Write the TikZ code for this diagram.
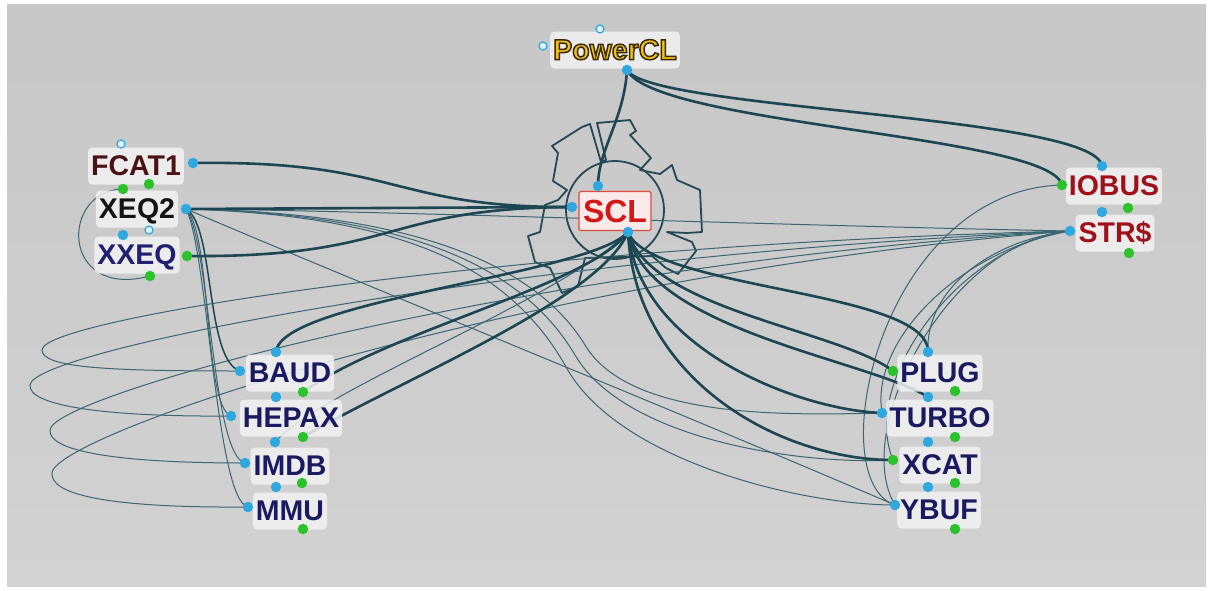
\documentclass[tikz,border=0pt]{standalone}
\usepackage{fontspec}
\setmainfont{Liberation Sans}
\newfontfamily\lblfont{Liberation Sans}
\definecolor{bgtop}{HTML}{C7C7C7}
\definecolor{bgmid}{HTML}{E1E1E1}
\definecolor{bgbot}{HTML}{D2D2D2}
\definecolor{edgedark}{HTML}{1C4654}
\definecolor{edgethin}{HTML}{3A6572}
\definecolor{geardark}{HTML}{244856}
\definecolor{boxfill}{HTML}{F2F2F2}
\definecolor{portblue}{HTML}{2EA8DE}
\definecolor{portgreen}{HTML}{2CC22C}
\definecolor{pcgold}{HTML}{F4C312}
\definecolor{maroon}{HTML}{4A1212}
\definecolor{navy}{HTML}{1A1A60}
\definecolor{xxnavy}{HTML}{202070}
\definecolor{sclred}{HTML}{D41818}
\definecolor{iored}{HTML}{A0101A}
\definecolor{sclbox}{HTML}{FBEAEA}
\definecolor{sclborder}{HTML}{E04A3A}
\newcommand{\outlinedtext}[1]{\special{pdf:literal direct 2 Tr 1.5 w 0.23 0.16 0.02 RG}#1\special{pdf:literal direct 0 Tr}}
\begin{document}
\begin{tikzpicture}[x=1pt,y=-1pt,
  thickedge/.style={draw=edgedark, line width=2.6pt},
  midedge/.style={draw=edgedark, line width=1.5pt},
  thinedge/.style={draw=edgethin, line width=1pt},
  gearline/.style={draw=geardark, line width=1.8pt, line join=round},
  lbl/.style={font=\lblfont\bfseries\fontsize{28.5}{28.5}\selectfont, fill=boxfill, fill opacity=0.85, text opacity=1, rounded corners=4pt,
    inner xsep=3pt, inner ysep=7pt, text height=21pt, text depth=2pt},
  bport/.style={circle, fill=portblue, inner sep=0pt, minimum size=10.5pt},
  gport/.style={circle, fill=portgreen, inner sep=0pt, minimum size=10.5pt},
  hport/.style={circle, draw=portblue, fill=white!85!portblue, line width=1.2pt, inner sep=0pt, minimum size=8pt}]
% background
\fill[white] (0,0) rectangle (1212,590);
\shade[top color=bgtop, middle color=bgmid, bottom color=bgbot] (7,4) rectangle (1206,586);
\useasboundingbox (0,0) rectangle (1212,590);

% port coordinates
\coordinate (pcA) at (600,29);  \coordinate (pcB) at (543,46);  \coordinate (pcC) at (627,70);
\coordinate (fcH) at (121,144); \coordinate (fcR) at (193,163); \coordinate (fcG) at (123,189); \coordinate (fcK) at (149,184);
\coordinate (xqR) at (186,209); \coordinate (xqB) at (123,235); \coordinate (xqH) at (149,230);
\coordinate (xxR) at (187,256); \coordinate (xxG) at (150,276);
\coordinate (sT) at (598,186);  \coordinate (sL) at (572,207);  \coordinate (sB) at (628,232);
\coordinate (ioT) at (1102,166); \coordinate (ioL) at (1062,185); \coordinate (ioG) at (1128,208);
\coordinate (stT) at (1102,212); \coordinate (stL) at (1070,231); \coordinate (stG) at (1129,253);
\coordinate (baT) at (276,352); \coordinate (baL) at (240,371); \coordinate (baG) at (303,392);
\coordinate (heT) at (276,397); \coordinate (heL) at (231,416); \coordinate (heG) at (303,437);
\coordinate (imT) at (275,442); \coordinate (imL) at (245,463); \coordinate (imG) at (302,483);
\coordinate (mmT) at (276,487); \coordinate (mmL) at (248,507); \coordinate (mmG) at (303,529);
\coordinate (plT) at (928,352); \coordinate (plL) at (893,371); \coordinate (plG) at (955,391);
\coordinate (tuT) at (928,397); \coordinate (tuL) at (882,413); \coordinate (tuG) at (955,437);
\coordinate (xcT) at (928,442); \coordinate (xcL) at (893,460); \coordinate (xcG) at (955,483);
\coordinate (ybT) at (928,487); \coordinate (ybL) at (895,505); \coordinate (ybG) at (955,529);

% gear around SCL
\draw[gearline] (615,210) circle (49);
\draw[gearline] (567,190) -- (553,181) -- (558,153) -- (552,146) -- (582,127) -- (590,124) -- (601,162)
  -- (606,160) -- (597,123) -- (630,120) -- (636,131) -- (630,135) -- (651,158) -- (640,170)
  -- (660,174) -- (672,165) -- (677,180) -- (700,190) -- (702,232) -- (687,233) -- (667,232)
  -- (692,242) -- (696,251) -- (678,274) -- (666,268) -- (652,256)
  -- (585,258) -- (578,286) -- (562,293) -- (550,268) -- (535,262) -- (528,236) -- (540,232)
  -- (545,205) -- (558,200) -- cycle;

% thin edges: loops from the left group to STR$
\draw[thinedge] (baL) .. controls (110,371) and (42,368) .. (42,350) .. controls (42,318) and (520,245) .. (stL);
\draw[thinedge] (heL) .. controls (100,417) and (28,405) .. (30,385) .. controls (32,350) and (520,255) .. (stL);
\draw[thinedge] (imL) .. controls (110,463) and (48,450) .. (50,430) .. controls (52,395) and (520,265) .. (stL);
\draw[thinedge] (mmL) .. controls (110,508) and (50,495) .. (52,473) .. controls (54,435) and (520,275) .. (stL);
% XEQ2 down to the left group
\draw[midedge] (xqR) .. controls (215,225) and (205,360) .. (baL);
\draw[thinedge] (xqR) .. controls (212,232) and (203,405) .. (heL);
\draw[thinedge] (xqR) .. controls (210,242) and (212,455) .. (imL);
\draw[thinedge] (xqR) .. controls (208,252) and (216,500) .. (mmL);
% FCAT1 loop to XXEQ
\draw[thinedge] (fcG) .. controls (60,190) and (60,300) .. (xxG);
% XEQ2 to the right
\draw[thinedge] (xqR) .. controls (350,210) and (800,226) .. (stL);
\draw[thinedge] (xqR) .. controls (400,300) and (650,400) .. (ybL);
\draw[thinedge] (xqR) .. controls (390,212) and (530,255) .. (585,345) .. controls (630,420) and (790,415) .. (tuL);
\draw[thinedge] (xqR) .. controls (400,214) and (520,262) .. (575,355) .. controls (625,440) and (800,465) .. (xcL);
\draw[thinedge] (xqR) .. controls (410,216) and (510,270) .. (565,365) .. controls (615,460) and (800,505) .. (ybL);
% IMDB top to SCL
\draw[thinedge] (imT) .. controls (320,390) and (560,300) .. (sB);
% IOBUS / STR$ to the right group
\draw[thinedge] (ioL) .. controls (880,190) and (820,480) .. (ybL);
\draw[thinedge] (stL) .. controls (990,240) and (925,290) .. (plT);
\draw[thinedge] (stL) .. controls (960,250) and (870,340) .. (tuL);
\draw[thinedge] (stL) .. controls (960,245) and (860,380) .. (xcL);
\draw[thinedge] (stL) .. controls (950,240) and (850,430) .. (ybL);

% thick edges
\draw[thickedge] (pcC) .. controls (624,120) and (598,150) .. (sT);
\draw[thickedge] (pcC) .. controls (650,110) and (1095,115) .. (ioT);
\draw[thickedge] (pcC) .. controls (655,125) and (1050,135) .. (ioL);
\draw[thickedge] (fcR) .. controls (400,160) and (390,208) .. (sL);
\draw[thickedge] (xqR) -- (sL);
\draw[thickedge] (xxR) .. controls (400,258) and (380,208) .. (sL);
\draw[thickedge] (sB) .. controls (590,275) and (280,300) .. (baT);
\draw[thickedge] (sB) .. controls (590,285) and (390,330) .. (baG);
\draw[thickedge] (sB) .. controls (600,300) and (400,380) .. (heG);
\draw[thickedge] (sB) .. controls (650,290) and (930,290) .. (plT);
\draw[thickedge] (sB) .. controls (650,310) and (840,330) .. (plL);
\draw[thickedge] (sB) .. controls (645,330) and (870,360) .. (tuT);
\draw[thickedge] (sB) .. controls (640,350) and (800,410) .. (tuL);
\draw[thickedge] (sB) .. controls (635,380) and (780,460) .. (xcL);

% labels
\node[lbl, text=pcgold] (pc) at (615,50) {\outlinedtext{PowerCL}};
\node[lbl, text=maroon] (fc) at (136,166) {FCAT1};
\node[lbl, text=black!92] (xq) at (137,209) {XEQ2};
\node[lbl, text=xxnavy] (xx) at (137,255) {XXEQ};
\node[fill=sclbox, draw=sclborder, line width=1.2pt, rounded corners=1.5pt, inner xsep=4pt, inner ysep=8pt,
  text height=23pt, text depth=0pt, text=sclred, font=\lblfont\bfseries\fontsize{32}{32}\selectfont] (scl) at (615,211) {SCL};
\node[lbl, text=iored] (io) at (1114,186) {IOBUS};
\node[lbl, text=iored] (st) at (1115,233) {STR\$};
\node[lbl, text=navy] (ba) at (290,373) {BAUD};
\node[lbl, text=navy] (he) at (291,418) {HEPAX};
\node[lbl, text=navy] (im) at (290,466) {IMDB};
\node[lbl, text=navy] (mm) at (290,511) {MMU};
\node[lbl, text=navy] (pl) at (940,373) {PLUG};
\node[lbl, text=navy] (tu) at (940,418) {TURBO};
\node[lbl, text=navy] (xc) at (940,465) {XCAT};
\node[lbl, text=navy] (yb) at (939,510) {YBUF};

% ports
\node[hport] (pcAd) at (pcA) {}; \node[hport] (pcBd) at (pcB) {}; \node[bport] (pcCd) at (pcC) {};
\node[hport] (fcHd) at (fcH) {}; \node[bport] (fcRd) at (fcR) {}; \node[gport] (fcGd) at (fcG) {}; \node[gport] (fcKd) at (fcK) {};
\node[bport] (xqRd) at (xqR) {}; \node[bport] (xqBd) at (xqB) {}; \node[hport] (xqHd) at (xqH) {};
\node[gport] (xxRd) at (xxR) {}; \node[gport] (xxGd) at (xxG) {};
\node[bport] (sTd) at (sT) {}; \node[bport] (sLd) at (sL) {}; \node[bport] (sBd) at (sB) {};
\node[bport] (ioTd) at (ioT) {}; \node[gport] (ioLd) at (ioL) {}; \node[gport] (ioGd) at (ioG) {};
\node[bport] (stTd) at (stT) {}; \node[bport] (stLd) at (stL) {}; \node[gport] (stGd) at (stG) {};
\node[bport] (baTd) at (baT) {}; \node[bport] (baLd) at (baL) {}; \node[gport] (baGd) at (baG) {};
\node[bport] (heTd) at (heT) {}; \node[bport] (heLd) at (heL) {}; \node[gport] (heGd) at (heG) {};
\node[bport] (imTd) at (imT) {}; \node[bport] (imLd) at (imL) {}; \node[gport] (imGd) at (imG) {};
\node[bport] (mmTd) at (mmT) {}; \node[bport] (mmLd) at (mmL) {}; \node[gport] (mmGd) at (mmG) {};
\node[bport] (plTd) at (plT) {}; \node[gport] (plLd) at (plL) {}; \node[gport] (plGd) at (plG) {};
\node[bport] (tuTd) at (tuT) {}; \node[bport] (tuLd) at (tuL) {}; \node[gport] (tuGd) at (tuG) {};
\node[bport] (xcTd) at (xcT) {}; \node[gport] (xcLd) at (xcL) {}; \node[gport] (xcGd) at (xcG) {};
\node[bport] (ybTd) at (ybT) {}; \node[bport] (ybLd) at (ybL) {}; \node[gport] (ybGd) at (ybG) {};
\end{tikzpicture}
\end{document}
